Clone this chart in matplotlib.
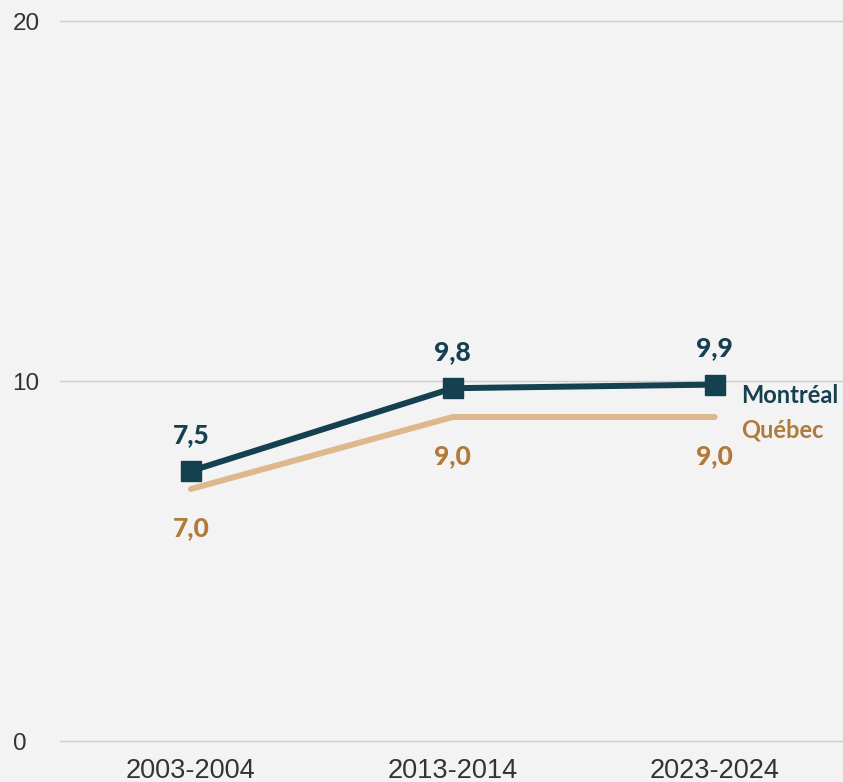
import matplotlib.pyplot as plt

periods = ['2003-2004', '2013-2014', '2023-2024']
montreal = [7.5, 9.8, 9.9]
quebec = [7.0, 9.0, 9.0]
mtl_labels = ['7,5', '9,8', '9,9']
qc_labels = ['7,0', '9,0', '9,0']

bg = '#f3f3f3'
mtl_color = '#15404f'
qc_line = '#dcb88c'
qc_text = '#b07a3b'

fig = plt.figure(figsize=(8.43, 7.82), dpi=100, facecolor=bg)
ax = fig.add_axes([60 / 843, 41 / 782, 1 - 60 / 843, 720 / 782])
ax.set_facecolor(bg)

x = list(range(len(periods)))
ax.plot(x, quebec, color=qc_line, lw=4.3, solid_capstyle='round', zorder=2)
ax.plot(x, montreal, color=mtl_color, lw=4.3, solid_capstyle='round',
        marker='s', markersize=14, zorder=3)

for xi, v, lab in zip(x, montreal, mtl_labels):
    ax.annotate(lab, (xi, v), xytext=(0, 26), textcoords='offset points',
                ha='center', va='center', fontsize=19, fontweight='black',
                color=mtl_color, family='Lato')
for xi, v, lab in zip(x, quebec, qc_labels):
    ax.annotate(lab, (xi, v), xytext=(0, -28), textcoords='offset points',
                ha='center', va='center', fontsize=19, fontweight='black',
                color=qc_text, family='Lato')

# series names at the end of the lines
ax.annotate('Montréal', (x[-1], montreal[-1]), xytext=(19, -8),
            textcoords='offset points', ha='left', va='center', fontsize=17,
            fontweight='bold', color=mtl_color, family='Lato')
ax.annotate('Québec', (x[-1], quebec[-1]), xytext=(19, -9),
            textcoords='offset points', ha='left', va='center', fontsize=17,
            fontweight='bold', color=qc_text, family='Lato')

ax.set_xlim(-0.5, 2.49)
ax.set_ylim(0, 20)
ax.set_yticks([0, 10, 20])
ax.set_xticks(x)
ax.set_xticklabels(periods)
ax.grid(axis='y', color='#cccccc', lw=1)
for gl in ax.get_ygridlines():
    gl.set_clip_on(False)
ax.set_axisbelow(True)
for s in ax.spines.values():
    s.set_visible(False)
ax.tick_params(length=0, colors='#333333', labelsize=17.5)
ax.tick_params(axis='x', pad=12, labelsize=19.5)
for t in ax.get_xticklabels() + ax.get_yticklabels():
    t.set_family('Liberation Sans')
for t in ax.get_yticklabels():
    t.set_ha('left')
    t.set_x(-60 / 783 + 0.016)
ax.yaxis.set_tick_params(pad=0)

fig.savefig('out.png', dpi=100, facecolor=bg)
